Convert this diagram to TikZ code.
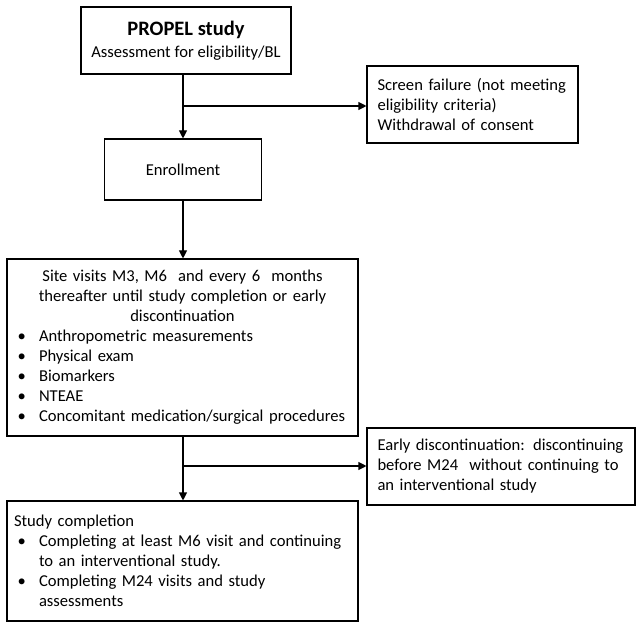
\documentclass[tikz,border=0pt]{standalone}
\usepackage{fontspec}
\setmainfont{Carlito}
\usepackage{enumitem}
\usetikzlibrary{arrows.meta}
\setlength{\parindent}{0pt}
\setlist[itemize]{nosep, leftmargin=25pt, labelsep=13pt, label=\textbullet}

\begin{document}
\begin{tikzpicture}[x=1pt, y=-1pt, line width=1.1pt,
    box/.style={draw, rectangle, inner sep=0pt, font=\fontsize{16.6}{20}\selectfont},
    flow/.style={-{Triangle[length=8pt,width=8pt]}}]
    \useasboundingbox (0, 0) rectangle (642, 628);

    \node[box, minimum width=210, minimum height=67, align=center] (a) at (186, 40.5)
        {{\fontsize{20.5}{24}\selectfont\bfseries PROPEL study}\\[2pt] Assessment for eligibility/BL};
    \node[box, minimum width=211, minimum height=77, text width=190, align=left] (b) at (472.5, 104.5)
        {Screen failure (not meeting\\ eligibility criteria)\\ Withdrawal of consent};
    \node[box, minimum width=157, minimum height=61] (c) at (183, 169.5) {Enrollment};
    \node[box, minimum width=351, minimum height=177, text width=337] (d) at (182.5, 347.5)
        {{\centering Site visits M3, M6 \ and every 6 \ months\\ thereafter until study completion or early\\ discontinuation\par}
        \raggedright
        \begin{itemize}
            \item Anthropometric measurements
            \item Physical exam
            \item Biomarkers
            \item NTEAE
            \item Concomitant medication/surgical procedures
        \end{itemize}};
    \node[box, minimum width=268, minimum height=77, text width=247, align=left] (e) at (501, 466.5)
        {Early discontinuation: discontinuing\\ before M24 \ without continuing to\\ an interventional study};
    \node[box, minimum width=351, minimum height=120, text width=337] (f) at (182.5, 561)
        {\raggedright Study completion\par
        \begin{itemize}
            \item Completing at least M6 visit and continuing\newline to an interventional study.
            \item Completing M24 visits and study\newline assessments
        \end{itemize}};

    \coordinate (g) at (183, 106);
    \coordinate (h) at (183, 466);

    \draw [flow] (a.south -| c.north) to (c.north);
    \draw [flow] (g) to (g -| b.west);
    \draw [flow] (c.south) to (d.north -| c.south);
    \draw [flow] (d.south -| c.south) to (f.north -| c.south);
    \draw [flow] (h) to (h -| e.west);

\end{tikzpicture}
\end{document}
